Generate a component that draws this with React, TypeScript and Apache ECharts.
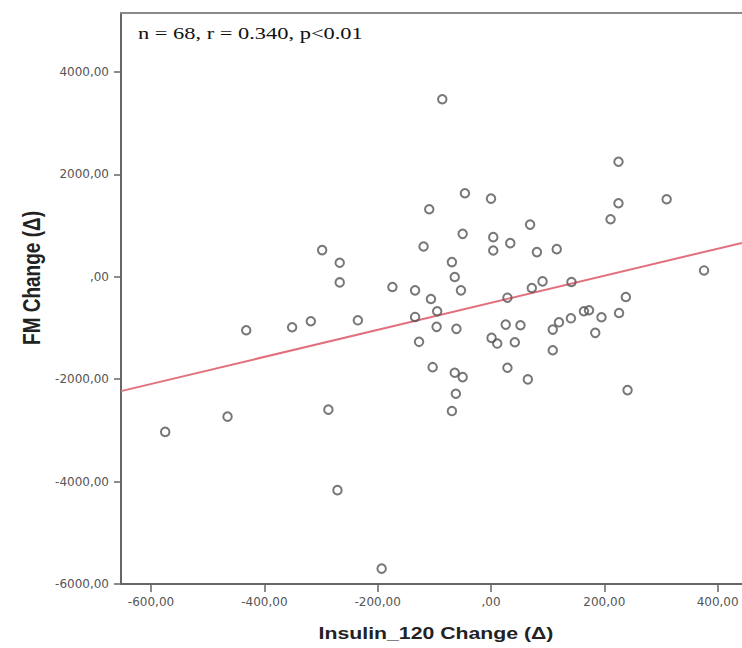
import React, { useEffect, useRef } from "react";
import * as echarts from "echarts";

// Insulin_120 change (x) and FM change (y)
const insulinChange = [
  -575, -465, -432, -351, -318, -298, -267, -267, -235, -287, -271, -193, -174,
  -86, -46, 0, -109, -119, -50, 4, 4, 34, 69, 81, 116, -69, -64, -53, -134,
  -106, -134, -95, -96, -61, -127, 29, 72, 91, 26, 52, 109, 1, 11, 42, 120,
  109, -103, -64, -50, -62, -69, 29, 65,
  211, 225, 225, 310, 142, 376, 238, 226, 195, 164, 173, 141, 184, 241,
];
const fmChange = [
  -3030, -2732, -1045, -987, -870, 520, 273, -111, -851, -2595, -4167, -5700, -200,
  3466, 1630, 1525, 1318, 590, 837, 773, 512, 656, 1018, 481, 539, 286, -6, -266, -266,
  -434, -785, -675, -979, -1018, -1271, -409, -220, -91, -935, -948, -1032, -1194, -1305, -1279, -890,
  -1435, -1766, -1875, -1960, -2284, -2623, -1778, -2005,
  1123, 2245, 1435, 1513, -103, 123, -395, -707, -792, -675, -655, -812, -1096, -2214,
];

// Fit line (from the picture): FM = intercept + slope * Insulin
const fitIntercept = -509;
const fitSlope = 2.642;

const xTicks = [-600, -400, -200, 0, 200, 400];
const yTicks = [-6000, -4000, -2000, 0, 2000, 4000];
const xMin = -653;
const xMax = 443;
const yMin = -6000;
const yMax = 5150;

const annotation = "n = 68, r = 0.340, p<0.01";
const xTitle = "Insulin_120 Change (\u0394)";
const yTitle = "FM Change (\u0394)";

const fmt = (v: number) => (v === 0 ? ",00" : `${v},00`);

export default function App() {
  const ref = useRef<HTMLDivElement>(null);
  useEffect(() => {
    if (!ref.current) return;
    const chart = echarts.init(ref.current, undefined, { renderer: "svg" });
    const points = insulinChange.map((x, i) => [x, fmChange[i]]);
    const fit = [
      [xMin, fitIntercept + fitSlope * xMin],
      [xMax, fitIntercept + fitSlope * xMax],
    ];
    const labelStyle = {
      color: "#555",
      fontFamily: "DejaVu Sans",
      fontSize: 12,
    };
    chart.setOption({
      animation: false,
      backgroundColor: "#fff",
      grid: { left: 121, top: 13, right: 0, bottom: 64 },
      xAxis: [
        {
          type: "value",
          min: xMin,
          max: xMax,
          position: "bottom",
          axisLine: { show: true, onZero: false, lineStyle: { color: "#666", width: 2 } },
          axisTick: { show: true, length: 8, customValues: xTicks, lineStyle: { color: "#666", width: 1.5 } },
          axisLabel: { ...labelStyle, margin: 12, customValues: xTicks, formatter: fmt },
          splitLine: { show: false },
        },
        {
          type: "value",
          min: xMin,
          max: xMax,
          position: "top",
          axisLine: { show: true, onZero: false, lineStyle: { color: "#8a8a8a", width: 2 } },
          axisTick: { show: false },
          axisLabel: { show: false },
          splitLine: { show: false },
        },
      ],
      yAxis: {
        type: "value",
        min: yMin,
        max: yMax,
        axisLine: { show: true, onZero: false, lineStyle: { color: "#666", width: 2 } },
        axisTick: { show: true, length: 7, customValues: yTicks, lineStyle: { color: "#666", width: 1.5 } },
        axisLabel: { ...labelStyle, margin: 12, customValues: yTicks, formatter: fmt },
        splitLine: { show: false },
      },
      series: [
        {
          type: "line",
          data: fit,
          showSymbol: false,
          symbol: "none",
          lineStyle: { color: "#e2707c", width: 2 },
          z: 1,
        },
        {
          type: "scatter",
          data: points,
          symbol: "circle",
          symbolSize: 8.5,
          itemStyle: { color: "rgba(0,0,0,0)", borderColor: "#555", borderWidth: 2 },
          z: 2,
        },
      ],
      graphic: [
        {
          type: "text",
          x: 138,
          y: 33,
          scaleX: 1.32,
          style: {
            text: annotation,
            fontFamily: "Liberation Serif",
            fontSize: 17,
            fill: "#111",
            textAlign: "left",
            textVerticalAlign: "middle",
          },
        },
        {
          type: "text",
          x: 436,
          y: 633,
          scaleX: 1.25,
          style: {
            text: xTitle,
            fontFamily: "Liberation Sans",
            fontWeight: "bold",
            fontSize: 17,
            fill: "#222",
            textAlign: "center",
            textVerticalAlign: "middle",
          },
        },
        {
          type: "text",
          x: 32,
          y: 278,
          rotation: Math.PI / 2,
          scaleY: 1.25,
          style: {
            text: yTitle,
            fontFamily: "Liberation Sans",
            fontWeight: "bold",
            fontSize: 19,
            fill: "#222",
            textAlign: "center",
            textVerticalAlign: "middle",
          },
        },
      ],
    });
    return () => chart.dispose();
  }, []);
  return (
    <div
      ref={ref}
      style={{ position: "absolute", left: 0, top: 0, width: 742, height: 648 }}
    />
  );
}
